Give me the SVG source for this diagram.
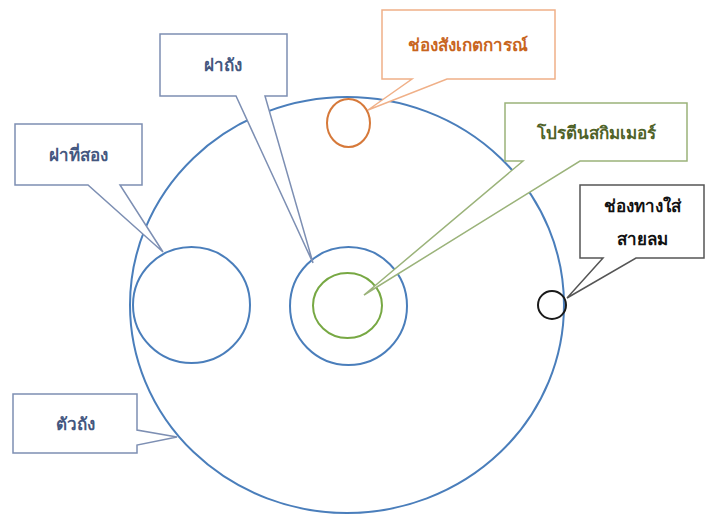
<svg xmlns="http://www.w3.org/2000/svg" width="709" height="517" viewBox="0 0 709 517">
<style>
.bg{fill:#ffffff}
.cb{fill:#ffffff;stroke:#7d8fb3;stroke-width:1.5}
.ring{fill:none;stroke:#4a7ebb;stroke-width:2}
.t{font-family:"Noto Sans","DejaVu Sans",sans-serif;font-size:17px;font-weight:bold;text-anchor:middle}
.tb{fill:#44577f}
</style>
<rect class="bg" x="0" y="0" width="709" height="517"/>
<g id="body"><ellipse class="ring" cx="347" cy="305" rx="217" ry="208"/></g>
<g id="second-lid"><ellipse class="ring" cx="191.5" cy="305" rx="58.5" ry="58"/></g>
<g id="lid"><ellipse class="ring" cx="348.5" cy="306" rx="58.5" ry="59"/></g>
<g id="skimmer"><ellipse cx="347.5" cy="305.5" rx="34.5" ry="32.5" fill="none" stroke="#77a843" stroke-width="2"/></g>
<g id="viewport"><ellipse cx="348.5" cy="123" rx="21.5" ry="24" fill="none" stroke="#d6793a" stroke-width="2"/></g>
<g id="airport"><circle cx="552" cy="305" r="14" fill="none" stroke="#1a1a1a" stroke-width="2"/></g>
<g id="connectors">
<g id="c-lid"><path class="cb" d="M160,34 H287 V96 H265 L313,263 L236,96 H160 Z"/><text class="t tb" x="223" y="71">ฝาถัง</text></g>
<g id="c-view"><path d="M382,10 H555 V79 H447 L368,110 L412,79 H382 Z" fill="#fff" stroke="#f0b088" stroke-width="1.5"/><text class="t" x="468" y="51" fill="#c8651e">ช่องสังเกตการณ์</text></g>
<g id="c-skim"><path d="M505,103 H687 V161 H580 L364,295 L523,161 H505 Z" fill="#fff" stroke="#9bb37a" stroke-width="1.5"/><text class="t" x="596" y="139" fill="#4f6228">โปรตีนสกิมเมอร์</text></g>
<g id="c-air"><path d="M580,185 H704 V258 H636 L567,298 L603,258 H580 Z" fill="#fff" stroke="#555" stroke-width="1.5"/><text class="t" x="642" y="212" fill="#111">ช่องทางใส่</text><text class="t" x="642" y="245" fill="#111">สายลม</text></g>
<g id="c-second"><path class="cb" d="M15,124 H142 V185 H120 L163,252 L88,185 H15 Z"/><text class="t tb" x="78" y="161">ฝาที่สอง</text></g>
<g id="c-body"><path class="cb" d="M13,394 H137 V430 L177,437 L137,445 V453 H13 Z"/><text class="t tb" x="75" y="430">ตัวถัง</text></g>
</g>
</svg>
